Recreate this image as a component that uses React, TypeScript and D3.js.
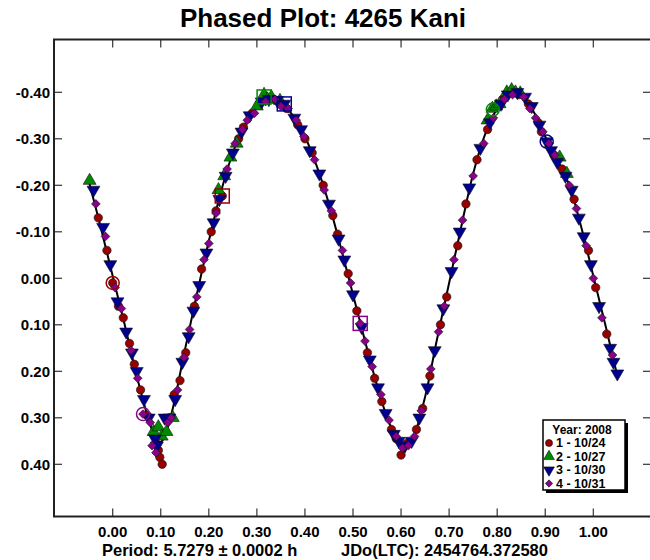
import React, { useEffect, useRef } from 'react';
import * as d3 from 'd3';

// fitted curve
const curvePhase = [
  -0.05, -0.025, 0.0, 0.025, 0.05, 0.075, 0.09, 0.1, 0.11, 0.125, 0.15, 0.175, 0.2, 0.225, 0.25,
  0.275, 0.3, 0.325, 0.35, 0.375, 0.4, 0.425, 0.45, 0.475, 0.5, 0.525, 0.55, 0.575, 0.6, 0.615,
  0.625, 0.65, 0.675, 0.7, 0.725, 0.75, 0.775, 0.8, 0.825, 0.85, 0.875, 0.9, 0.925, 0.95, 0.975,
  1.0, 1.025, 1.05,
];
const curveMag = [
  -0.21, -0.11, -0.005, 0.1, 0.21, 0.305, 0.345, 0.352, 0.335, 0.28, 0.155, 0.035, -0.08, -0.185,
  -0.27, -0.33, -0.37, -0.385, -0.378, -0.35, -0.305, -0.24, -0.16, -0.065, 0.035, 0.135, 0.23,
  0.31, 0.358, 0.36, 0.345, 0.255, 0.13, 0.01, -0.11, -0.225, -0.31, -0.365, -0.398, -0.395, -0.36,
  -0.305, -0.255, -0.2, -0.11, -0.005, 0.1, 0.21,
];

// session 1 - 10/24
const s1: [number, number][] = [
  [-0.03, -0.13], [-0.012, -0.06], [0.0, 0.01], [0.012, 0.06], [0.022, 0.085], [0.035, 0.14],
  [0.045, 0.185], [0.058, 0.24], [0.072, 0.295], [0.095, 0.37], [0.098, 0.385], [0.103, 0.4],
  [0.118, 0.3], [0.128, 0.25], [0.14, 0.22], [0.152, 0.16], [0.17, 0.06], [0.185, -0.02],
  [0.205, -0.1], [0.215, -0.145], [0.228, -0.177], [0.262, -0.3], [0.272, -0.325], [0.29, -0.355],
  [0.305, -0.375], [0.335, -0.385], [0.362, -0.365], [0.385, -0.33], [0.4, -0.3], [0.415, -0.27],
  [0.438, -0.2], [0.458, -0.135], [0.468, -0.095], [0.49, -0.01], [0.508, 0.07], [0.53, 0.16],
  [0.545, 0.215], [0.56, 0.265], [0.58, 0.325], [0.59, 0.345], [0.6, 0.38], [0.612, 0.355],
  [0.632, 0.325], [0.645, 0.28], [0.66, 0.21], [0.682, 0.1], [0.695, 0.04], [0.718, -0.07],
  [0.735, -0.16], [0.758, -0.255], [0.78, -0.32], [0.812, -0.385], [0.845, -0.395], [0.865, -0.375],
  [0.885, -0.335], [0.892, -0.315], [0.918, -0.265], [0.935, -0.235], [0.96, -0.17], [0.99, -0.06],
  [1.005, 0.02], [1.028, 0.12],
];
// session 2 - 10/27
const s2: [number, number][] = [
  [-0.048, -0.21], [0.085, 0.33], [0.095, 0.32], [0.102, 0.34], [0.112, 0.33], [0.125, 0.3],
  [0.22, -0.19], [0.232, -0.22], [0.245, -0.26], [0.258, -0.29], [0.3, -0.37], [0.315, -0.395],
  [0.322, -0.385], [0.33, -0.39], [0.348, -0.382], [0.78, -0.34], [0.79, -0.365], [0.798, -0.37],
  [0.805, -0.375], [0.82, -0.4], [0.83, -0.405], [0.838, -0.4], [0.848, -0.398], [0.93, -0.26],
  [0.945, -0.225],
];
// session 3 - 10/30
const s3: [number, number][] = [
  [-0.04, -0.19], [-0.02, -0.11], [-0.005, -0.03], [0.01, 0.05], [0.028, 0.115], [0.04, 0.16],
  [0.05, 0.2], [0.065, 0.26], [0.075, 0.3], [0.088, 0.345], [0.092, 0.36], [0.108, 0.3],
  [0.118, 0.3], [0.13, 0.26], [0.145, 0.18], [0.158, 0.125], [0.168, 0.07], [0.18, 0.015],
  [0.195, -0.055], [0.21, -0.12], [0.222, -0.17], [0.235, -0.22], [0.25, -0.27], [0.268, -0.315],
  [0.285, -0.35], [0.31, -0.38], [0.325, -0.385], [0.342, -0.383], [0.357, -0.375], [0.378, -0.345],
  [0.392, -0.32], [0.41, -0.275], [0.43, -0.225], [0.45, -0.16], [0.47, -0.085], [0.482, -0.04],
  [0.5, 0.035], [0.518, 0.105], [0.535, 0.175], [0.552, 0.235], [0.568, 0.29], [0.585, 0.335],
  [0.595, 0.35], [0.608, 0.36], [0.622, 0.35], [0.638, 0.3], [0.655, 0.235], [0.67, 0.155],
  [0.688, 0.065], [0.705, -0.015], [0.722, -0.1], [0.742, -0.195], [0.765, -0.28], [0.785, -0.335],
  [0.808, -0.375], [0.822, -0.395], [0.842, -0.4], [0.858, -0.39], [0.872, -0.37], [0.888, -0.33],
  [0.903, -0.294], [0.912, -0.275], [0.925, -0.25], [0.942, -0.22], [0.955, -0.19], [0.97, -0.13],
  [0.98, -0.09], [0.995, -0.03], [1.012, 0.06], [1.035, 0.15], [1.042, 0.18], [1.05, 0.205],
];
// session 4 - 10/31
const s4: [number, number][] = [
  [-0.035, -0.16], [-0.015, -0.09], [0.005, 0.02], [0.018, 0.065], [0.038, 0.155], [0.052, 0.215],
  [0.063, 0.292], [0.078, 0.31], [0.082, 0.36], [0.09, 0.375], [0.115, 0.31], [0.122, 0.3],
  [0.135, 0.24], [0.148, 0.17], [0.16, 0.11], [0.175, 0.04], [0.19, -0.04], [0.2, -0.075],
  [0.215, -0.14], [0.238, -0.235], [0.255, -0.29], [0.27, -0.32], [0.28, -0.34], [0.295, -0.355],
  [0.318, -0.38], [0.338, -0.385], [0.35, -0.37], [0.365, -0.365], [0.382, -0.34], [0.398, -0.305],
  [0.42, -0.255], [0.44, -0.19], [0.455, -0.145], [0.478, -0.06], [0.495, 0.01], [0.515, 0.097],
  [0.525, 0.135], [0.54, 0.19], [0.558, 0.25], [0.575, 0.305], [0.59, 0.34], [0.603, 0.365],
  [0.615, 0.36], [0.628, 0.34], [0.642, 0.285], [0.662, 0.195], [0.678, 0.115], [0.69, 0.06],
  [0.71, -0.04], [0.728, -0.125], [0.75, -0.22], [0.772, -0.29], [0.792, -0.345], [0.815, -0.385],
  [0.832, -0.395], [0.855, -0.39], [0.868, -0.365], [0.88, -0.345], [0.895, -0.315], [0.908, -0.29],
  [0.92, -0.265], [0.95, -0.2], [0.965, -0.15], [0.985, -0.07], [1.0, 0.0], [1.018, 0.085],
  [1.04, 0.165],
];

// first / last point of each session (open circle / open square)
const sessionStart: [number, number][] = [[0.0, 0.01], [0.791, -0.363], [0.903, -0.294], [0.063, 0.292]];
const sessionEnd: [number, number][] = [[0.228, -0.177], [0.315, -0.39], [0.357, -0.375], [0.515, 0.097]];

const legendLabels = ['1 - 10/24', '2 - 10/27', '3 - 10/30', '4 - 10/31'];
const colors = ['#990000', '#008a00', '#000090', '#8b008b'];
const xTicks = [0, 0.1, 0.2, 0.3, 0.4, 0.5, 0.6, 0.7, 0.8, 0.9, 1.0];
const yTicks = [-0.4, -0.3, -0.2, -0.1, 0, 0.1, 0.2, 0.3, 0.4];

const App = () => {
  const ref = useRef<SVGSVGElement>(null);

  useEffect(() => {
    const svg = d3.select(ref.current);
    svg.selectAll('*').remove();

    const left = 54;
    const right = 651;
    const top = 39.5;
    const bottom = 516.5;
    const font = 'Arial, "Liberation Sans", sans-serif';

    const x = d3.scaleLinear().domain([0, 1]).range([112.7, 593.3]);
    const y = d3.scaleLinear().domain([-0.4, 0.4]).range([92.3, 464.3]);

    svg.append('rect').attr('width', 650).attr('height', 560).attr('fill', '#fff');

    // title
    svg
      .append('text')
      .attr('x', 323)
      .attr('y', 27)
      .attr('text-anchor', 'middle')
      .style('font', `bold 26px ${font}`)
      .text('Phased Plot: 4265 Kani');

    // ticks (inward on all four sides)
    const tk = svg.append('g').attr('stroke', '#333').attr('stroke-width', 1.2);
    xTicks.forEach((t) => {
      tk.append('line').attr('x1', x(t)).attr('x2', x(t)).attr('y1', bottom).attr('y2', bottom - 8);
      tk.append('line').attr('x1', x(t)).attr('x2', x(t)).attr('y1', top).attr('y2', top + 8);
    });
    yTicks.forEach((t) => {
      tk.append('line').attr('x1', left).attr('x2', left + 8).attr('y1', y(t)).attr('y2', y(t));
      tk.append('line').attr('x1', right).attr('x2', right - 8).attr('y1', y(t)).attr('y2', y(t));
    });

    svg
      .append('g')
      .selectAll('text')
      .data(xTicks)
      .join('text')
      .attr('x', (d) => x(d))
      .attr('y', 537)
      .attr('text-anchor', 'middle')
      .style('font', `bold 15px ${font}`)
      .text((d) => d.toFixed(2));

    svg
      .append('g')
      .selectAll('text')
      .data(yTicks)
      .join('text')
      .attr('x', 50)
      .attr('y', (d) => y(d) + 5.5)
      .attr('text-anchor', 'end')
      .style('font', `bold 15px ${font}`)
      .text((d) => d.toFixed(2));

    // frame
    svg
      .append('rect')
      .attr('x', left)
      .attr('y', top)
      .attr('width', right - left)
      .attr('height', bottom - top)
      .attr('fill', 'none')
      .attr('stroke', '#222')
      .attr('stroke-width', 2);

    // fitted curve
    svg
      .append('path')
      .datum(d3.zip(curvePhase, curveMag))
      .attr('fill', 'none')
      .attr('stroke', '#000')
      .attr('stroke-width', 2)
      .attr(
        'd',
        d3
          .line<number[]>()
          .x((d) => x(d[0]))
          .y((d) => y(d[1]))
          .curve(d3.curveCatmullRom)
      );

    // circle, up triangle, down triangle, diamond (square turned 45deg)
    const symbols = [d3.symbolCircle, d3.symbolTriangle, d3.symbolTriangle, d3.symbolSquare];
    const sizes = [56, 72, 72, 38];
    const rotations = [0, 0, 180, 45];
    const sessions = [s1, s2, s3, s4];

    const drawMarker = (g: any, i: number, px: number, py: number, k = 1) => {
      g.append('path')
        .attr('d', d3.symbol(symbols[i], sizes[i] * k)())
        .attr('transform', `translate(${px},${py}) rotate(${rotations[i]})`)
        .attr('fill', colors[i])
        .attr('stroke', '#111')
        .attr('stroke-width', 0.6);
    };

    const pts = svg.append('g');
    sessions.forEach((s, i) => {
      s.forEach((d) => drawMarker(pts, i, x(d[0]), y(d[1])));
    });

    // session start / end markers
    sessionStart.forEach((d, i) => {
      pts
        .append('circle')
        .attr('cx', x(d[0]))
        .attr('cy', y(d[1]))
        .attr('r', 6.5)
        .attr('fill', 'none')
        .attr('stroke', colors[i])
        .attr('stroke-width', 1.5);
    });
    sessionEnd.forEach((d, i) => {
      pts
        .append('rect')
        .attr('x', x(d[0]) - 7)
        .attr('y', y(d[1]) - 7)
        .attr('width', 14)
        .attr('height', 14)
        .attr('fill', 'none')
        .attr('stroke', colors[i])
        .attr('stroke-width', 1.5);
    });

    // legend
    const lg = svg.append('g');
    lg.append('rect').attr('x', 546).attr('y', 423).attr('width', 82).attr('height', 70).attr('fill', '#000');
    lg.append('rect')
      .attr('x', 543)
      .attr('y', 420)
      .attr('width', 82)
      .attr('height', 70)
      .attr('fill', '#fff')
      .attr('stroke', '#000')
      .attr('stroke-width', 1.5);
    lg.append('text')
      .attr('x', 582)
      .attr('y', 434)
      .attr('text-anchor', 'middle')
      .style('font', `bold 12px ${font}`)
      .text('Year: 2008');
    legendLabels.forEach((l, i) => {
      const ly = 447 + i * 13.5;
      drawMarker(lg, i, 549, ly - 4, 0.7);
      lg.append('text')
        .attr('x', 556)
        .attr('y', ly)
        .style('font', `bold 12.5px ${font}`)
        .text(l);
    });

    // footer
    svg
      .append('text')
      .attr('x', 102)
      .attr('y', 556)
      .style('font', `bold 16.5px ${font}`)
      .text('Period: 5.7279 ± 0.0002 h');
    svg
      .append('text')
      .attr('x', 341)
      .attr('y', 556)
      .style('font', `bold 16.5px ${font}`)
      .text('JDo(LTC): 2454764.372580');
  }, []);

  return (
    <svg
      ref={ref}
      width={650}
      height={560}
      style={{ position: 'absolute', left: 0, top: 0 }}
    />
  );
};

export default App;
